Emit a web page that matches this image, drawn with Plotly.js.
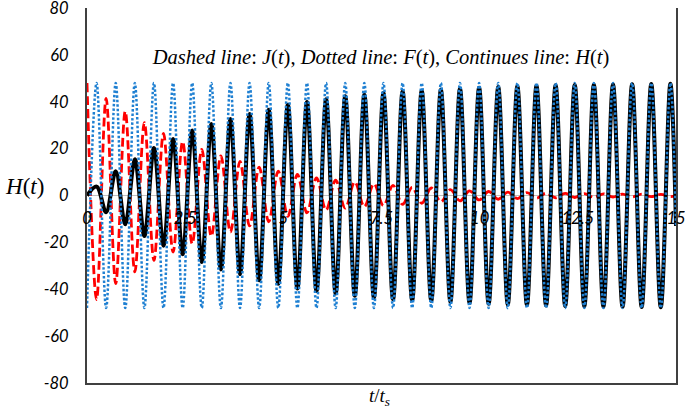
<!DOCTYPE html>
<html>
<head>
<meta charset="utf-8">
<script src="https://cdn.plot.ly/plotly-3.0.1.min.js"></script>
<style>html,body{margin:0;padding:0;background:#fff;}#chart{width:685px;height:408px;}</style>
</head>
<body>
<div id="chart"></div>
<script>
// Times of the extrema (t/t_s), plus the end of the range
const tExt = [0, 0.244, 0.487, 0.731, 0.974, 1.218, 1.461, 1.705, 1.948, 2.192,
  2.436, 2.679, 2.923, 3.166, 3.41, 3.653, 3.897, 4.14, 4.384, 4.628,
  4.871, 5.115, 5.358, 5.602, 5.845, 6.089, 6.332, 6.576, 6.82, 7.063,
  7.307, 7.55, 7.794, 8.037, 8.281, 8.524, 8.768, 9.012, 9.255, 9.499,
  9.742, 9.986, 10.229, 10.473, 10.716, 10.96, 11.204, 11.447, 11.691, 11.934,
  12.178, 12.421, 12.665, 12.908, 13.152, 13.396, 13.639, 13.883, 14.126, 14.37,
  14.613, 14.857, 15];

// H(t): continuous line
const hVals = [0, 3.8, -7.1, 10.4, -12.3, 15.5, -17.3, 20.3, -21.4, 24.1,
  -25.1, 27.7, -28.4, 30.5, -31.6, 32.6, -33.6, 34.8, -36.2, 36.6,
  -37.6, 38.7, -39.7, 39.9, -40.7, 41.1, -41.8, 42.3, -42.8, 43.0,
  -43.5, 43.7, -44.3, 44.4, -44.7, 44.7, -45.0, 45.1, -45.4, 45.6,
  -45.8, 46.0, -46.2, 46.3, -46.5, 46.6, -46.7, 46.8, -46.9, 47.0,
  -47.1, 47.2, -47.3, 47.3, -47.4, 47.4, -47.5, 47.5, -47.6, 47.6,
  -47.7, 47.7, -13];

// J(t): dashed line
const jVals = [48, -44.4, 41.4, -37.6, 35.9, -32.6, 31.1, -27.7, 26.5, -24.1,
  23.0, -20.6, 19.7, -17.4, 16.9, -15.6, 14.6, -13.0, 12.1, -11.2,
  10.4, -8.9, 9.0, -7.4, 7.5, -6.2, 6.5, -5.4, 5.8, -4.8,
  5.0, -4.3, 4.3, -3.8, 3.5, -3.3, 3.2, -2.7, 2.5, -2.3,
  2.0, -1.9, 1.7, -1.6, 1.4, -1.3, 1.2, -1.1, 1.0, -0.95,
  0.9, -0.85, 0.8, -0.75, 0.7, -0.65, 0.6, -0.6, 0.55, -0.5,
  0.5, -0.5, 0.1];

// F(t): dotted line
const fVals = [-48, 48, -48, 48, -48, 48, -48, 48, -48, 48,
  -48, 48, -48, 48, -48, 48, -48, 48, -48, 48,
  -48, 48, -48, 48, -48, 48, -48, 48, -48, 48,
  -48, 48, -48, 48, -48, 48, -48, 48, -48, 48,
  -48, 48, -48, 48, -48, 48, -48, 48, -48, 48,
  -48, 48, -48, 48, -48, 48, -48, 48, -48, 48,
  -48, 48, -13];

const xTickVals = [0, 2.5, 5, 7.5, 10, 12.5, 15];
const xTickText = ['0', '2.5', '5', '7.5', '10', '12.5', '15'];
const yTickVals = [-80, -60, -40, -20, 0, 20, 40, 60, 80];
const yTickText = ['-80', '-60', '-40', '-20', '0', '20', '40', '60', '80'];

const traces = [
  {x: tExt, y: jVals, type: 'scatter', mode: 'lines', name: 'J(t)',
   line: {color: '#ff0000', width: 2.8, dash: '9px,4px', shape: 'spline', smoothing: 1}},
  {x: tExt, y: hVals, type: 'scatter', mode: 'lines', name: 'H(t)',
   line: {color: '#000000', width: 4, shape: 'spline', smoothing: 1}},
  {x: tExt, y: fVals, type: 'scatter', mode: 'lines', name: 'F(t)', xaxis: 'x2',
   line: {color: '#1f80d2', width: 2.5, dash: '2.5px,2px', shape: 'spline', smoothing: 1}}
];

const tickFont = {family: 'Lato, "Open Sans", sans-serif', size: 16.5, style: 'italic', color: '#000'};
const serif = '"Liberation Serif", "DejaVu Serif", serif';

const layout = {
  width: 685, height: 408,
  margin: {l: 87, r: 9, t: 8, b: 25, pad: 0},
  paper_bgcolor: '#ffffff', plot_bgcolor: '#ffffff',
  showlegend: false,
  title: {
    text: '<i>Dashed line</i>: <i>J</i>(<i>t</i>), <i>Dotted line</i>: <i>F</i>(<i>t</i>), <i>Continues line</i>: <i>H</i>(<i>t</i>)',
    font: {family: serif, size: 20.5, color: '#000'},
    x: 381 / 685, xanchor: 'center', xref: 'container',
    y: 1 - 57 / 408, yanchor: 'middle', yref: 'container'
  },
  xaxis: {
    range: [0, 15], showline: true, linecolor: '#404040', linewidth: 2,
    showgrid: false, zeroline: false, ticks: '', showticklabels: false,
    fixedrange: true
  },
  xaxis2: {
    range: [0, 15], overlaying: 'x', anchor: 'free', position: 0.5, side: 'bottom',
    showline: false, showgrid: false, zeroline: false, ticks: '',
    tickmode: 'array', tickvals: xTickVals, ticktext: xTickText,
    tickfont: tickFont, ticklabelstandoff: 11, ticklabeloverflow: 'allow', fixedrange: true
  },
  yaxis: {
    range: [-80, 80], tickmode: 'array', tickvals: yTickVals, ticktext: yTickText,
    showline: true, mirror: true, linecolor: '#404040', linewidth: 2,
    showgrid: false, zeroline: true, zerolinecolor: '#bfbfbf', zerolinewidth: 1.5,
    ticks: '', tickfont: tickFont, ticklabelstandoff: 13, ticklabeloverflow: 'allow',
    fixedrange: true
  },
  annotations: [
    {text: '<i>H</i>(<i>t</i>)', xref: 'paper', yref: 'paper',
     x: -63 / 589, y: (383 - 186) / 375, xanchor: 'center', yanchor: 'middle', showarrow: false,
     font: {family: serif, size: 23, color: '#000'}},
    {text: '<i>t</i>/<i>t</i><sub><i>s</i></sub>', xref: 'paper', yref: 'paper',
     x: (379 - 87) / 589, y: -1 / 375, xanchor: 'center', yanchor: 'top', showarrow: false,
     borderpad: 0,
     font: {family: serif, size: 19, color: '#000'}}
  ]
};

Plotly.newPlot('chart', traces, layout, {displayModeBar: false, staticPlot: true});
</script>
</body>
</html>
